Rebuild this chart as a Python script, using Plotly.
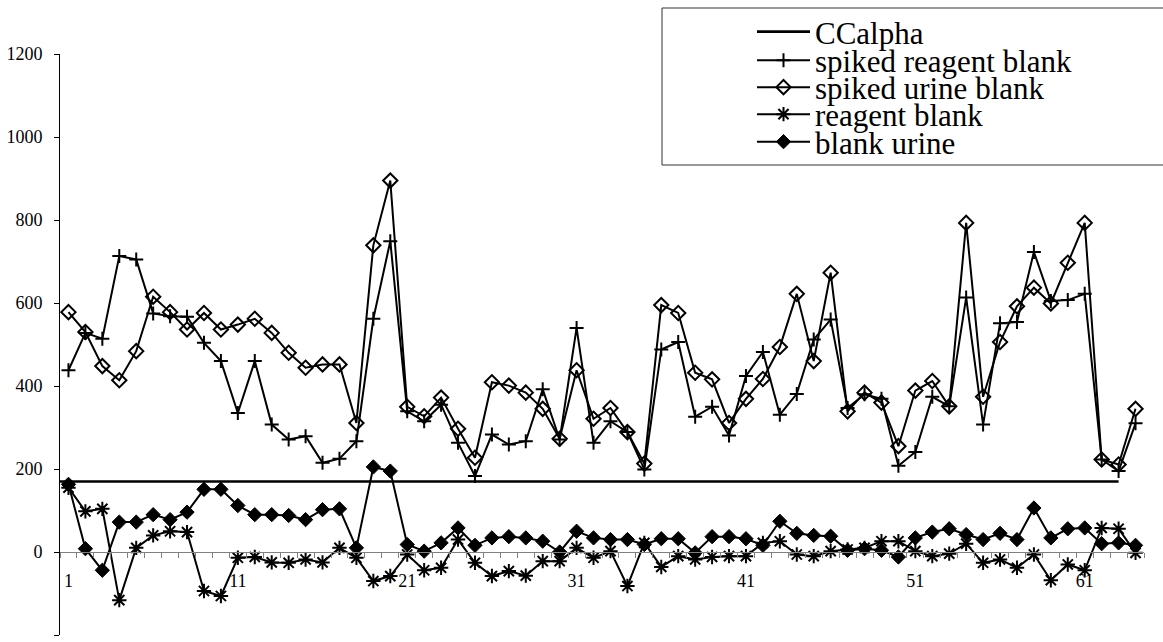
import plotly.graph_objects as go

# sample numbers 1..64
samples = list(range(1, 65))

spiked_reagent_blank = [438, 528, 514, 713, 705, 575, 568, 567, 504, 460,
                        335, 460, 307, 271, 279, 215, 225, 267, 562, 749,
                        339, 315, 355, 263, 183, 283, 259, 267, 392, 271,
                        540, 263, 315, 289, 199, 488, 506, 326, 350, 281,
                        424, 482, 331, 381, 512, 560, 347, 380, 369, 208,
                        241, 374, 351, 613, 307, 551, 554, 723, 605, 607,
                        622, 223, 195, 310]

spiked_urine_blank = [578, 530, 448, 414, 484, 615, 578, 536, 576, 536,
                      548, 562, 528, 480, 444, 452, 452, 311, 739, 895,
                      350, 327, 372, 297, 227, 409, 401, 384, 345, 273,
                      438, 321, 347, 289, 213, 595, 576, 432, 416, 311,
                      369, 417, 494, 622, 460, 673, 339, 384, 360, 255,
                      389, 412, 351, 793, 374, 506, 592, 637, 599, 697,
                      793, 223, 211, 345]

reagent_blank = [155, 98, 104, -116, 10, 40, 50, 48, -94, -106,
                 -14, -12, -25, -26, -18, -25, 10, -14, -70, -58,
                 -6, -44, -38, 30, -26, -58, -46, -57, -22, -22,
                 10, -14, 2, -82, 22, -36, -10, -18, -12, -10,
                 -10, 22, 26, -6, -10, 2, 6, 10, 26, 26,
                 2, -10, -4, 20, -26, -18, -38, -6, -68, -30,
                 -44, 58, 56, -2]

blank_urine = [163, 8, -44, 72, 72, 90, 78, 96, 151, 151,
               112, 90, 90, 88, 78, 102, 104, 10, 205, 195,
               18, 2, 22, 58, 16, 34, 37, 34, 26, 0,
               50, 34, 30, 30, 18, 32, 32, -2, 37, 37,
               32, 16, 74, 45, 40, 38, 4, 8, 4, -12,
               34, 48, 56, 42, 30, 45, 30, 106, 34, 56,
               58, 20, 22, 16]

# decision limit, one value per sample 1..63
ccalpha = [170] * 63

x_ticks = [1, 11, 21, 31, 41, 51, 61]
y_ticks = [-200, 0, 200, 400, 600, 800, 1000, 1200]

X_RANGE = [0.5, 64.5]
Y_RANGE = [-200, 1200]

FONT = "Liberation Serif"
LW = 2

fig = go.Figure()

# CCalpha runs from the axis edge to the last sample it covers
fig.add_trace(go.Scatter(
    x=[X_RANGE[0]] + samples[:len(ccalpha)], y=[ccalpha[0]] + ccalpha,
    mode="lines", name="CCalpha", line=dict(color="black", width=2.6),
    legend="legend"))

fig.add_trace(go.Scatter(
    x=samples, y=spiked_reagent_blank, mode="lines+markers",
    name="spiked reagent blank", line=dict(color="black", width=LW),
    marker=dict(symbol="cross-thin", size=10, line=dict(color="black", width=2)),
    legend="legend2"))

fig.add_trace(go.Scatter(
    x=samples, y=spiked_urine_blank, mode="lines+markers",
    name="spiked urine blank", line=dict(color="black", width=LW),
    marker=dict(symbol="diamond-open", size=11, color="black",
                line=dict(color="black", width=2)),
    legend="legend3"))

fig.add_trace(go.Scatter(
    x=samples, y=reagent_blank, mode="lines+markers",
    name="reagent blank", line=dict(color="black", width=LW),
    marker=dict(symbol="asterisk-open", size=12, line=dict(color="black", width=2)),
    legend="legend4"))

fig.add_trace(go.Scatter(
    x=samples, y=blank_urine, mode="lines+markers",
    name="blank urine", line=dict(color="black", width=LW),
    marker=dict(symbol="diamond", size=11, color="black",
                line=dict(color="black", width=1)),
    legend="legend5"))

# plot area in pixels: left 60, right 1144, top 54, bottom 635
L, R, T, B = 60, 19, 54, 7
W, H = 1163, 642
pw, ph = W - L - R, H - T - B


def px_to_paper_x(px):
    return (px - L) / pw


def px_to_paper_y(py):
    return (H - B - py) / ph


legend_rows = [32, 60.5, 87.5, 114.5, 142]
legend_common = dict(
    font=dict(family=FONT, size=31, color="black"),
    bgcolor="rgba(0,0,0,0)", borderwidth=0,
    xanchor="left", yanchor="middle", itemwidth=53,
    x=px_to_paper_x(752), tracegroupgap=0,
)
layout_legends = {}
for i, row in enumerate(legend_rows):
    key = "legend" if i == 0 else f"legend{i + 1}"
    layout_legends[key] = dict(legend_common, y=px_to_paper_y(row))

fig.update_layout(
    width=W, height=H,
    margin=dict(l=L, r=R, t=T, b=B, pad=0, autoexpand=False),
    paper_bgcolor="white", plot_bgcolor="white",
    font=dict(family=FONT, size=17, color="black"),
    showlegend=True,
    **layout_legends,
    xaxis=dict(
        range=X_RANGE, showgrid=False, zeroline=False,
        anchor="free", position=(0 - Y_RANGE[0]) / (Y_RANGE[1] - Y_RANGE[0]),
        showline=True, linecolor="#808080", linewidth=1,
        tickmode="array", tickvals=x_ticks, ticktext=[str(v) for v in x_ticks],
        ticks="", ticklabelstandoff=12,
        tickfont=dict(family=FONT, size=18, color="black"),
        minor=dict(ticks="outside", tickmode="linear", tick0=0.5, dtick=1,
                   ticklen=5, tickcolor="#808080", tickwidth=1, showgrid=False),
    ),
    yaxis=dict(
        range=Y_RANGE, showgrid=False, zeroline=False,
        showline=True, linecolor="black", linewidth=1,
        tickmode="array", tickvals=y_ticks, ticktext=[str(v) for v in y_ticks],
        ticks="outside", ticklen=5, tickcolor="black", tickwidth=1,
        ticklabelstandoff=8,
        tickfont=dict(family=FONT, size=18, color="black"),
    ),
    shapes=[dict(
        type="rect", xref="paper", yref="paper", layer="below",
        x0=px_to_paper_x(662), x1=px_to_paper_x(1175),
        y0=px_to_paper_y(165), y1=px_to_paper_y(8),
        line=dict(color="#333333", width=1), fillcolor="white",
    )],
)

fig.write_html("out.html")
